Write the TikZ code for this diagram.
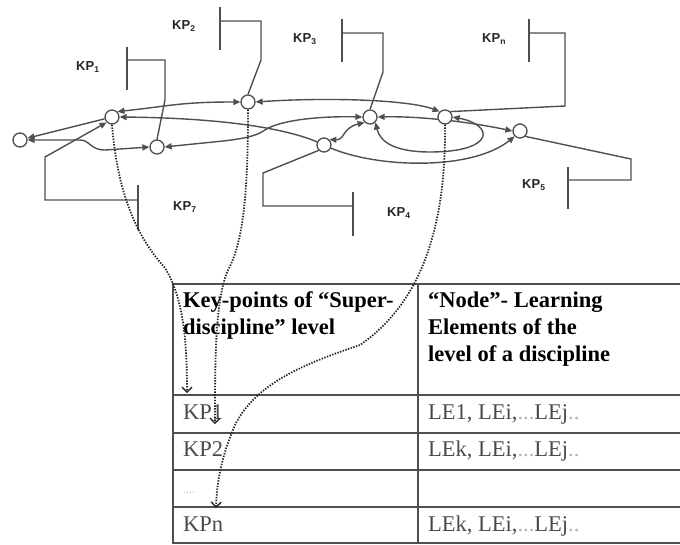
\documentclass[tikz,border=0pt]{standalone}
\usepackage{fontspec}
\setmainfont{Liberation Serif}
\setsansfont{Liberation Sans}
\usetikzlibrary{arrows.meta}
\pgfdeclarelayer{bg}
\pgfsetlayers{bg,main}
\definecolor{linec}{HTML}{4F4F4F}
\definecolor{txtgray}{HTML}{4A4A4A}
\newcommand\kpsub[1]{\raisebox{-2.5pt}{\fontsize{8.5}{8.5}\selectfont #1}}
\newcommand\lightdots{{\color{gray!60}...}}
\begin{document}
\begin{tikzpicture}[x=1pt,y=-1pt,
  kpnode/.style={circle,draw=linec,fill=white,line width=1.3pt,minimum size=14pt,inner sep=0pt},
  link/.style={draw=linec,line width=1.4pt},
  both/.style={link,{Triangle[length=7pt,width=6pt]}-{Triangle[length=7pt,width=6pt]}},
  toend/.style={link,-{Triangle[length=7pt,width=6pt]}},
  bracket/.style={draw=linec,line width=1.4pt},
  dotarrow/.style={draw=black!85,line width=1.8pt,dash pattern=on 1.4pt off 1.4pt,-{Straight Barb[length=5pt,width=10pt,line width=1.4pt]}},
  kplabel/.style={font=\sffamily\bfseries\fontsize{13}{15}\selectfont,anchor=base west,inner sep=0pt,text=black!85},
  hdr/.style={font=\bfseries\fontsize{22.5}{27}\selectfont,anchor=base west,inner sep=0pt},
  cell/.style={font=\fontsize{22.5}{27}\selectfont,anchor=base west,inner sep=0pt,text=txtgray},
  tline/.style={draw=linec,line width=1.8pt}]
\useasboundingbox (0,0) rectangle (680,544);

% nodes
\node[kpnode] (n0) at (20,140) {};
\node[kpnode] (n1) at (112,117) {};
\node[kpnode] (nl) at (157,147) {};
\node[kpnode] (n2) at (248,102) {};
\node[kpnode] (n4) at (324,145) {};
\node[kpnode] (n3) at (370,117) {};
\node[kpnode] (nn) at (445,117) {};
\node[kpnode] (n5) at (520,131) {};

% labels
\node[kplabel] (l1) at (76,70) {KP\kpsub{1}};
\node[kplabel] (l2) at (172,29) {KP\kpsub{2}};
\node[kplabel] (l3) at (293,42) {KP\kpsub{3}};
\node[kplabel] (ln) at (482,42) {KP\kpsub{n}};
\node[kplabel] (l5) at (522,188) {KP\kpsub{5}};
\node[kplabel] (l4) at (387,216) {KP\kpsub{4}};
\node[kplabel] (l7) at (173,210) {KP\kpsub{7}};

\begin{pgfonlayer}{bg}
% brackets
\draw[bracket] (127,47) -- (127,90);
\draw[bracket] (127,60) -- (165,60) -- (165,100) -- (nl.north);
\draw[bracket] (220,7) -- (220,50);
\draw[bracket] (220,21) -- (261,21) -- (261,60) -- (n2.north);
\draw[bracket] (342,19) -- (342,62);
\draw[bracket] (342,33) -- (383,33) -- (383,72) -- (n3.north);
\draw[bracket] (529,19) -- (529,62);
\draw[bracket] (529,33) -- (565,33) -- (565,106) -- (nn.north east);
\draw[bracket] (568,167) -- (568,209);
\draw[bracket] (568,180) -- (631,180) -- (631,159) -- (n5.south east);
\draw[bracket] (353,192) -- (353,236);
\draw[bracket] (353,206) -- (263,206) -- (263,173) -- (n4.south west);
\draw[bracket] (138,185) -- (138,230);
\draw[toend] (138,200) -- (45,200) -- (45,157) -- (n1.south west);

% links
\draw[toend] (n1) -- (n0);
\draw[both] (n0.east) -- (80,140) .. controls (90,140) and (90,150) .. (105,150) -- (nl.west);
\draw[both] (n1.north east) .. controls (170,106) and (180,102) .. (n2.west);
\draw[both] (n2.east) .. controls (330,97) and (410,100) .. (nn.north west);
\draw[link,{Triangle[length=7pt,width=6pt]}-] (n1.east) .. controls (220,118) and (290,128) .. (n4.center);
\draw[link,-{Triangle[length=7pt,width=6pt]}] (n4.center) .. controls (370,168) and (470,172) .. (n5.south west);
\draw[both] (nl.east) .. controls (230,140) and (250,140) .. (265,130) .. controls (280,120) and (320,116) .. (n3.west);
\draw[both] (n3.east) .. controls (420,116) and (470,122) .. (n5.west);
\draw[both] (nn.east) .. controls (495,125) and (495,152) .. (430,152) .. controls (395,152) and (380,142) .. (n3.south east);
\draw[both] (n4.north east) .. controls (345,140) and (342,128) .. (n3.south west);
\end{pgfonlayer}

% table
\draw[tline] (173,284) -- (680,284);
\draw[tline] (173,395) -- (680,395);
\draw[tline] (173,433) -- (680,433);
\draw[tline] (173,470) -- (680,470);
\draw[tline] (173,507) -- (680,507);
\draw[tline] (173,543) -- (680,543);
\draw[tline] (173,283) -- (173,544);
\draw[tline] (418,283) -- (418,544);

\node[hdr] (h1a) at (183,307) {Key-points of “Super-};
\node[hdr] (h1b) at (183,334) {discipline” level};
\node[hdr] (h2a) at (428,307) {“Node”- Learning};
\node[hdr] (h2b) at (428,334) {Elements of the};
\node[hdr] (h2c) at (428,361) {level of a discipline};

\node[cell] (r1a) at (183,419) {KP1};
\node[cell] (r1b) at (428,419) {LE1, LEi,\lightdots LEj{\color{gray!60}..}};
\node[cell] (r2a) at (183,456) {KP2};
\node[cell] (r2b) at (428,456) {LEk, LEi,\lightdots LEj{\color{gray!60}..}};
\node[cell,text=gray!50,font=\fontsize{12}{14}\selectfont] (r3a) at (183,493) {....};
\node[cell] (r4a) at (183,531) {KPn};
\node[cell] (r4b) at (428,531) {LEk, LEi,\lightdots LEj{\color{gray!60}..}};

% dotted arrows
\coordinate (t1) at (187,393);
\coordinate (t2) at (215,424);
\coordinate (t3) at (216,508);
\draw[dotarrow] (n1.south) .. controls (118,200) and (140,240) .. (165,268) .. controls (185,300) and (187,350) .. (t1);
\draw[dotarrow] (n2.south) .. controls (248,180) and (245,240) .. (228,270) .. controls (215,300) and (215,360) .. (t2);
\draw[dotarrow] (nn.south) .. controls (446,220) and (425,300) .. (360,345) .. controls (300,365) and (255,385) .. (235,425) .. controls (222,455) and (217,480) .. (t3);
\end{tikzpicture}
\end{document}
